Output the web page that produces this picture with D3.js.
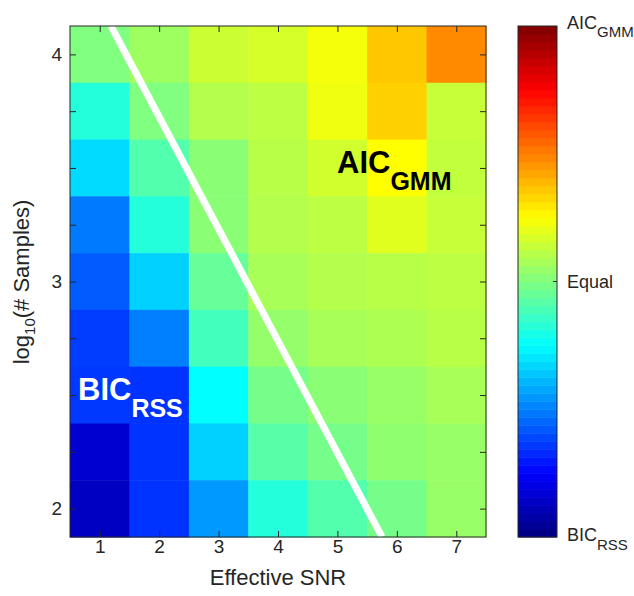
<!DOCTYPE html>
<html>
<head>
<meta charset="utf-8">
<script src="https://cdn.jsdelivr.net/npm/d3@7"></script>
<style>
html,body{margin:0;padding:0;background:#fff;}
svg{display:block;font-family:"Liberation Sans",Arial,sans-serif;}
</style>
</head>
<body>
<svg id="chart" width="634" height="596"></svg>
<script>
// ---- data ----
const snrValues = [1, 2, 3, 4, 5, 6, 7];
const logSamples = [4, 3.75, 3.5, 3.25, 3, 2.75, 2.5, 2.25, 2];
// preference: -1 = BIC_RSS better, 0 = equal, +1 = AIC_GMM better (rows follow logSamples)
const row400 = [0.00, 0.06, 0.15, 0.17, 0.23, 0.36, 0.48];
const row375 = [-0.18, 0.00, 0.10, 0.12, 0.22, 0.34, 0.14];
const row350 = [-0.32, -0.09, 0.02, 0.11, 0.16, 0.25, 0.13];
const row325 = [-0.51, -0.18, 0.02, 0.10, 0.12, 0.19, 0.14];
const row300 = [-0.57, -0.34, -0.05, 0.08, 0.10, 0.11, 0.12];
const row275 = [-0.63, -0.50, -0.12, 0.04, 0.08, 0.09, 0.11];
const row250 = [-0.64, -0.65, -0.25, -0.02, 0.02, 0.05, 0.08];
const row225 = [-0.84, -0.65, -0.34, -0.08, -0.02, 0.03, 0.05];
const row200 = [-0.87, -0.65, -0.45, -0.18, -0.09, -0.02, 0.05];
const rows = [row400, row375, row350, row325, row300, row275, row250, row225, row200];
const xTicks = [1, 2, 3, 4, 5, 6, 7];
const yTicks = [2, 2.25, 2.5, 2.75, 3, 3.25, 3.5, 3.75, 4];
const yTickLabels = {2: "2", 3: "3", 4: "4"};
const boundaryLineX = [1.19, 5.75];
const boundaryLineY = [4.125, 1.875];

// ---- layout ----
const svg = d3.select("#chart");
const L = 70, R = 486, T = 26, B = 537;
const x = d3.scaleLinear().domain([0.5, 7.5]).range([L, R]);
const y = d3.scaleLinear().domain([1.875, 4.125]).range([B, T]);
const axisColor = "#262626";

function jet(t) {
  t = Math.max(0, Math.min(1, t));
  const c = v => Math.round(255 * Math.max(0, Math.min(1, v)));
  return `rgb(${c(1.5 - Math.abs(4 * t - 3))},${c(1.5 - Math.abs(4 * t - 2))},${c(1.5 - Math.abs(4 * t - 1))})`;
}
const valueToT = d3.scaleLinear().domain([-1, 1]).range([0, 1]);

// ---- cells ----
const cells = [];
rows.forEach((r, j) => r.forEach((v, i) => cells.push({snr: snrValues[i], ls: logSamples[j], v})));
svg.append("g").selectAll("rect").data(cells).join("rect")
  .attr("x", d => x(d.snr - 0.5))
  .attr("y", d => y(d.ls + 0.125))
  .attr("width", d => x(d.snr + 0.5) - x(d.snr - 0.5) + 0.5)
  .attr("height", d => y(d.ls - 0.125) - y(d.ls + 0.125) + 0.5)
  .attr("fill", d => jet(valueToT(d.v)));

// ---- boundary line ----
svg.append("clipPath").attr("id", "plotclip").append("rect")
  .attr("x", L).attr("y", T).attr("width", R - L).attr("height", B - T);
svg.append("line")
  .attr("clip-path", "url(#plotclip)")
  .attr("x1", x(boundaryLineX[0])).attr("y1", y(boundaryLineY[0]))
  .attr("x2", x(boundaryLineX[1])).attr("y2", y(boundaryLineY[1]))
  .attr("stroke", "#fff").attr("stroke-width", 7);

// ---- axes ----
function styleAxis(g) {
  g.select(".domain").remove();
  g.selectAll(".tick line").attr("stroke", axisColor).attr("stroke-width", 1);
  g.selectAll(".tick text").attr("fill", axisColor).style("font-size", "19px");
}
svg.append("g").attr("transform", `translate(0,${B})`)
  .call(d3.axisBottom(x).tickValues(xTicks).tickSize(-6).tickPadding(16).tickFormat(d3.format("d")))
  .call(styleAxis)
  .call(g => g.selectAll(".tick text").attr("dy", "0"));
svg.append("g").attr("transform", `translate(0,${T})`)
  .call(d3.axisTop(x).tickValues(xTicks).tickSize(-6).tickFormat(""))
  .call(styleAxis);
svg.append("g").attr("transform", `translate(${L},0)`)
  .call(d3.axisLeft(y).tickValues(yTicks).tickSize(-6).tickPadding(8).tickFormat(d => yTickLabels[d] || ""))
  .call(styleAxis);
svg.append("g").attr("transform", `translate(${R},0)`)
  .call(d3.axisRight(y).tickValues(yTicks).tickSize(-6).tickFormat(""))
  .call(styleAxis);
svg.append("rect").attr("x", L).attr("y", T).attr("width", R - L).attr("height", B - T)
  .attr("fill", "none").attr("stroke", axisColor).attr("stroke-width", 1);

// ---- axis labels ----
svg.append("text").attr("x", (L + R) / 2).attr("y", 585).attr("text-anchor", "middle")
  .attr("fill", axisColor).style("font-size", "22px").text("Effective SNR");
const yl = svg.append("text").attr("transform", "translate(29,282) rotate(-90)")
  .attr("text-anchor", "middle").attr("fill", axisColor).style("font-size", "22px");
yl.append("tspan").text("log");
yl.append("tspan").attr("dy", 6).style("font-size", "15px").text("10");
yl.append("tspan").attr("dy", -6).text("(# Samples)");

// ---- region labels ----
const aic = svg.append("text").attr("x", 337).attr("y", 173).attr("fill", "#000")
  .style("font-weight", "bold").style("font-size", "31px");
aic.append("tspan").text("AIC");
aic.append("tspan").attr("dy", 17).style("font-size", "25px").text("GMM");
const bic = svg.append("text").attr("x", 78).attr("y", 400).attr("fill", "#fff")
  .style("font-weight", "bold").style("font-size", "31px");
bic.append("tspan").text("BIC");
bic.append("tspan").attr("dy", 17).style("font-size", "25px").text("RSS");

// ---- colorbar ----
const CL = 518, CR = 557;
const cb = d3.scaleLinear().domain([-1, 1]).range([B, T]);
const nBands = 64;
const bands = d3.range(nBands).map(i => ({lo: -1 + 2 * i / nBands, hi: -1 + 2 * (i + 1) / nBands}));
svg.append("g").selectAll("rect").data(bands).join("rect")
  .attr("x", CL).attr("width", CR - CL)
  .attr("y", d => cb(d.hi)).attr("height", d => cb(d.lo) - cb(d.hi) + 0.5)
  .attr("fill", d => jet(valueToT((d.lo + d.hi) / 2)));
svg.append("rect").attr("x", CL).attr("y", T).attr("width", CR - CL).attr("height", B - T)
  .attr("fill", "none").attr("stroke", axisColor).attr("stroke-width", 1);
svg.append("line").attr("x1", CR - 4).attr("x2", CR).attr("y1", cb(0)).attr("y2", cb(0))
  .attr("stroke", axisColor);

const cbTop = svg.append("text").attr("x", 567).attr("y", 29).attr("fill", axisColor).style("font-size", "18px");
cbTop.append("tspan").text("AIC");
cbTop.append("tspan").attr("dy", 8).style("font-size", "15px").text("GMM");
svg.append("text").attr("x", 567).attr("y", cb(0) + 6).attr("fill", axisColor).style("font-size", "18px").text("Equal");
const cbBot = svg.append("text").attr("x", 567).attr("y", 541).attr("fill", axisColor).style("font-size", "18px");
cbBot.append("tspan").text("BIC");
cbBot.append("tspan").attr("dy", 9).style("font-size", "15px").text("RSS");
</script>
</body>
</html>
